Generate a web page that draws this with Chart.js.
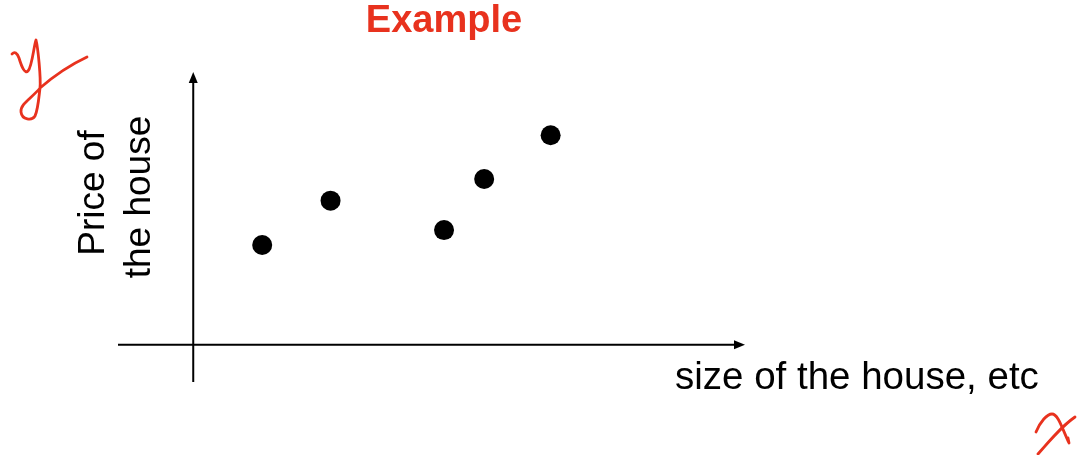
<!DOCTYPE html>
<html>
<head>
<meta charset="utf-8">
<script src="https://cdn.jsdelivr.net/npm/chart.js@4/dist/chart.umd.min.js"></script>
<style>
  html, body { margin: 0; padding: 0; background: #ffffff; }
  #wrap { width: 1079px; height: 455px; }
</style>
</head>
<body>
<div id="wrap"><canvas id="c" width="1079" height="455"></canvas></div>
<script>
// ---- data ----
const sizeValues  = [1.10, 2.19, 4.00, 4.64, 5.70];
const priceValues = [3.22, 4.65, 3.70, 5.35, 6.76];
const titleText = "Example";
const yLabelLines = ["Price of", "the house"];
const xLabelText = "size of the house, etc";

const points = sizeValues.map((x, i) => ({ x: x, y: priceValues[i] }));
const FONT = '"Liberation Sans", Arial, Helvetica, sans-serif';
const RED = '#e8321e';

const decor = {
  id: 'decor',
  beforeDatasetsDraw(chart) {
    const ctx = chart.ctx;
    const a = chart.chartArea;
    const x0 = chart.scales.x.getPixelForValue(0);
    const y0 = chart.scales.y.getPixelForValue(0);
    ctx.save();
    ctx.strokeStyle = '#000';
    ctx.fillStyle = '#000';
    ctx.lineWidth = 2;
    // x axis line
    ctx.beginPath();
    ctx.moveTo(a.left, y0);
    ctx.lineTo(a.right - 8, y0);
    ctx.stroke();
    ctx.beginPath();
    ctx.moveTo(a.right, y0);
    ctx.lineTo(a.right - 11, y0 - 4.5);
    ctx.lineTo(a.right - 11, y0 + 4.5);
    ctx.closePath();
    ctx.fill();
    // y axis line
    ctx.beginPath();
    ctx.moveTo(x0, a.bottom);
    ctx.lineTo(x0, a.top + 8);
    ctx.stroke();
    ctx.beginPath();
    ctx.moveTo(x0, a.top);
    ctx.lineTo(x0 - 4.5, a.top + 11);
    ctx.lineTo(x0 + 4.5, a.top + 11);
    ctx.closePath();
    ctx.fill();
    ctx.restore();
  },
  afterDraw(chart) {
    const ctx = chart.ctx;
    ctx.save();
    // title
    ctx.fillStyle = RED;
    ctx.font = 'bold 38px ' + FONT;
    ctx.textAlign = 'center';
    ctx.textBaseline = 'alphabetic';
    ctx.fillText(titleText, 444, 32);
    // x label
    ctx.fillStyle = '#000';
    ctx.font = '38.5px ' + FONT;
    ctx.textAlign = 'left';
    ctx.fillText(xLabelText, 675, 389);
    // y label (rotated)
    ctx.save();
    ctx.rotate(-Math.PI / 2);
    ctx.textAlign = 'center';
    ctx.font = '37px ' + FONT;
    ctx.fillText(yLabelLines[0], -193, 104);
    ctx.fillText(yLabelLines[1], -197, 150);
    ctx.restore();
    // handwritten annotations
    ctx.strokeStyle = RED;
    ctx.lineWidth = 2.8;
    ctx.lineCap = 'round';
    ctx.lineJoin = 'round';
    // "y"
    ctx.beginPath();
    ctx.moveTo(12, 54);
    ctx.quadraticCurveTo(16, 50, 19, 58);
    ctx.bezierCurveTo(22, 68, 25, 74, 28, 71);
    ctx.bezierCurveTo(32, 67, 34, 45, 36, 40);
    ctx.bezierCurveTo(38, 48, 41, 78, 40, 88);
    ctx.bezierCurveTo(32, 98, 20, 104, 21, 112);
    ctx.bezierCurveTo(22, 120, 32, 121, 35, 116);
    ctx.bezierCurveTo(38, 110, 39, 96, 40, 88);
    ctx.bezierCurveTo(55, 75, 72, 64, 87, 57);
    ctx.stroke();
    // "x"
    ctx.beginPath();
    ctx.moveTo(1036, 432);
    ctx.bezierCurveTo(1040, 422, 1047, 414, 1052, 414);
    ctx.bezierCurveTo(1058, 414, 1062, 428, 1069, 443);
    ctx.lineTo(1068, 438);
    ctx.stroke();
    ctx.beginPath();
    ctx.moveTo(1038, 454);
    ctx.bezierCurveTo(1050, 440, 1062, 426, 1075, 417);
    ctx.stroke();
    ctx.restore();
  }
};

new Chart(document.getElementById('c'), {
  type: 'scatter',
  data: {
    datasets: [{
      data: points,
      backgroundColor: '#000',
      borderColor: '#000',
      pointRadius: 10,
      pointHoverRadius: 10,
      borderWidth: 0
    }]
  },
  options: {
    responsive: false,
    devicePixelRatio: 1,
    animation: false,
    layout: { padding: { left: 118, right: 334, top: 72, bottom: 73 } },
    plugins: { legend: { display: false }, tooltip: { enabled: false }, title: { display: false } },
    scales: {
      x: { type: 'linear', display: false, min: -1.2, max: 8.8 },
      y: { type: 'linear', display: false, min: -1.2, max: 8.8 }
    }
  },
  plugins: [decor]
});
</script>
</body>
</html>
